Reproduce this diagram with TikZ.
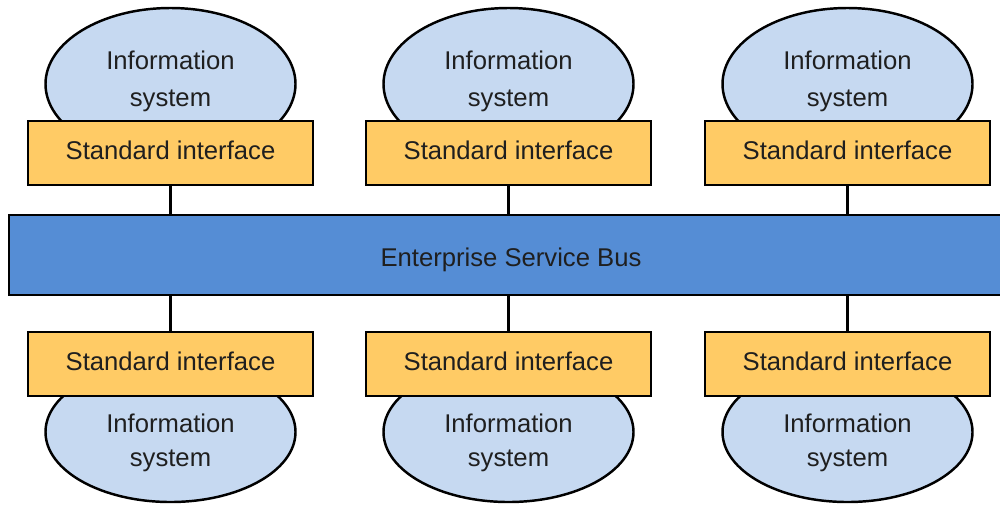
\documentclass[tikz,border=0pt]{standalone}
\usepackage{fontspec}
\setmainfont{Liberation Sans}
\usetikzlibrary{shapes.geometric}

\definecolor{sysfill}{HTML}{C6D9F1}
\definecolor{iffill}{HTML}{FFCB65}
\definecolor{busfill}{HTML}{558DD5}

\tikzset{
  base/.style={draw=black, line width=1.4pt, font=\fontsize{14.6pt}{20pt}\selectfont, text=black!88},
  infosys/.style={draw=black, line width=1.4pt, ellipse, fill=sysfill, inner sep=0pt,
    minimum width=250*0.02cm},
  systext/.style={font=\fontsize{14.6pt}{20pt}\selectfont, text=black!88, align=center, inner sep=0pt},
  iface/.style={base, rectangle, fill=iffill, inner sep=0pt,
    minimum width=285*0.02cm, minimum height=64*0.02cm,
    text height=10.6pt, text depth=3.7pt},
  bus/.style={base, rectangle, fill=busfill, inner sep=0pt,
    minimum width=1004*0.02cm, minimum height=80*0.02cm,
    text height=16.3pt, text depth=2.9pt},
  link/.style={draw=black, line width=1.4pt}
}

\begin{document}
\begin{tikzpicture}[x=0.02cm, y=-0.02cm]
  \useasboundingbox[fill=white] (0,0) rectangle (1000,505);

  % information systems (drawn first so the interfaces overlap them)
  \foreach \i/\cx in {1/170.5, 2/508.5, 3/847.5} {
    \node[infosys, minimum height=152*0.02cm] (top\i) at (\cx,84) {};
    \node[systext] (toptext\i) at (\cx,81.5) {Information\\[1pt]system};
    \node[infosys, minimum height=140*0.02cm] (bot\i) at (\cx,432) {};
    \node[systext] (bottext\i) at (\cx,443) {Information\\[-0.6pt]system};
  }

  % the bus
  \node[bus] (esb) at (511,255) {Enterprise Service Bus};

  % standard interfaces above and below the bus
  \foreach \i/\cx in {1/170.5, 2/508.5, 3/847.5} {
    \node[iface] (tif\i) at (\cx,153) {Standard interface};
    \node[iface] (bif\i) at (\cx,364) {Standard interface};
    \draw[link] (tif\i.south) -- (tif\i.south |- esb.north);
    \draw[link] (bif\i.north) -- (bif\i.north |- esb.south);
  }
\end{tikzpicture}
\end{document}
